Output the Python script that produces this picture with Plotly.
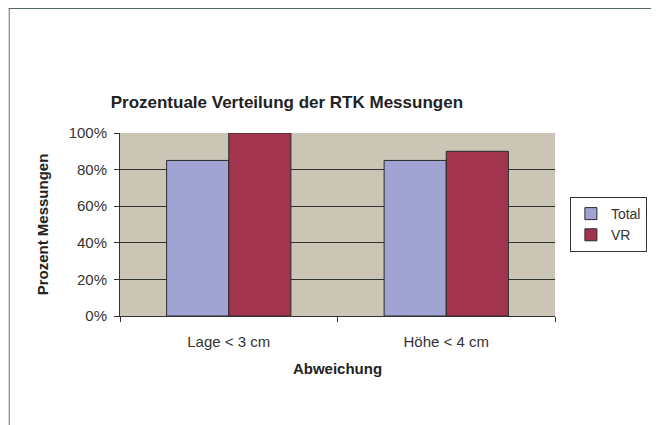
import plotly.graph_objects as go

categories = ["Lage < 3 cm", "Höhe < 4 cm"]
total_values = [0.85, 0.85]
vr_values = [1.00, 0.90]
series_names = ["Total", "VR"]

FONT = "Liberation Sans, Arial, sans-serif"

W, H = 651, 417
L, R, T, B = 112, 101, 125, 109
PW, PH = W - L - R, H - T - B


def px(X):
    return (X - L) / PW


def py(Y):
    return 1 - (Y - T) / PH


fig = go.Figure()
fig.add_trace(go.Bar(x=categories, y=total_values, name=series_names[0],
                     marker=dict(color="#A1A4D2", line=dict(color="#2A2A2A", width=1))))
fig.add_trace(go.Bar(x=categories, y=vr_values, name=series_names[1],
                     marker=dict(color="#A3344F", line=dict(color="#2A2A2A", width=1))))

fig.update_layout(
    width=W, height=H,
    margin=dict(l=L, r=R, t=T, b=B),
    paper_bgcolor="white",
    plot_bgcolor="#CBC5B6",
    barmode="group",
    bargap=0.4286,
    bargroupgap=0,
    font=dict(family=FONT, size=15, color="#333333"),
    title=dict(text="<b>Prozentuale Verteilung der RTK Messungen</b>",
               xref="paper", x=px(280), xanchor="center",
               yref="container", y=1 - 94 / H, yanchor="middle",
               font=dict(family=FONT, size=17, color="#222222")),
    showlegend=True,
    legend=dict(x=px(565), xanchor="left", y=py(216.5), yanchor="middle",
                bgcolor="white", bordercolor="#333333", borderwidth=1,
                font=dict(family=FONT, size=14, color="#333333"),
                itemwidth=30, tracegroupgap=2),
    xaxis=dict(
        showgrid=False,
        showline=True, linecolor="#333333", linewidth=1,
        ticks="outside", tickson="boundaries", ticklen=5, tickcolor="#333333",
        ticklabelstandoff=12,
        tickfont=dict(family=FONT, size=15, color="#333333"),
        title=dict(text="<b>Abweichung</b>", font=dict(family=FONT, size=15, color="#222222"), standoff=14),
    ),
    yaxis=dict(
        range=[0, 1], dtick=0.2, tickformat=".0%",
        showgrid=True, gridcolor="#2F3530", gridwidth=1,
        showline=True, linecolor="#333333", linewidth=1,
        ticks="outside", ticklen=5, tickcolor="#333333",
        ticklabelstandoff=4,
        tickfont=dict(family=FONT, size=15, color="#333333"),
        title=dict(text="<b>Prozent Messungen</b>", font=dict(family=FONT, size=15, color="#222222"), standoff=16),
        zeroline=False,
    ),
    shapes=[
        dict(type="line", xref="paper", yref="paper",
             x0=px(0.5), x1=px(0.5), y0=py(0), y1=py(H),
             line=dict(color="#6A6E6A", width=1)),
        dict(type="line", xref="paper", yref="paper",
             x0=px(0), x1=px(W), y0=py(0.5), y1=py(0.5),
             line=dict(color="#556A5C", width=1)),
    ],
)

fig.write_html("out.html")
